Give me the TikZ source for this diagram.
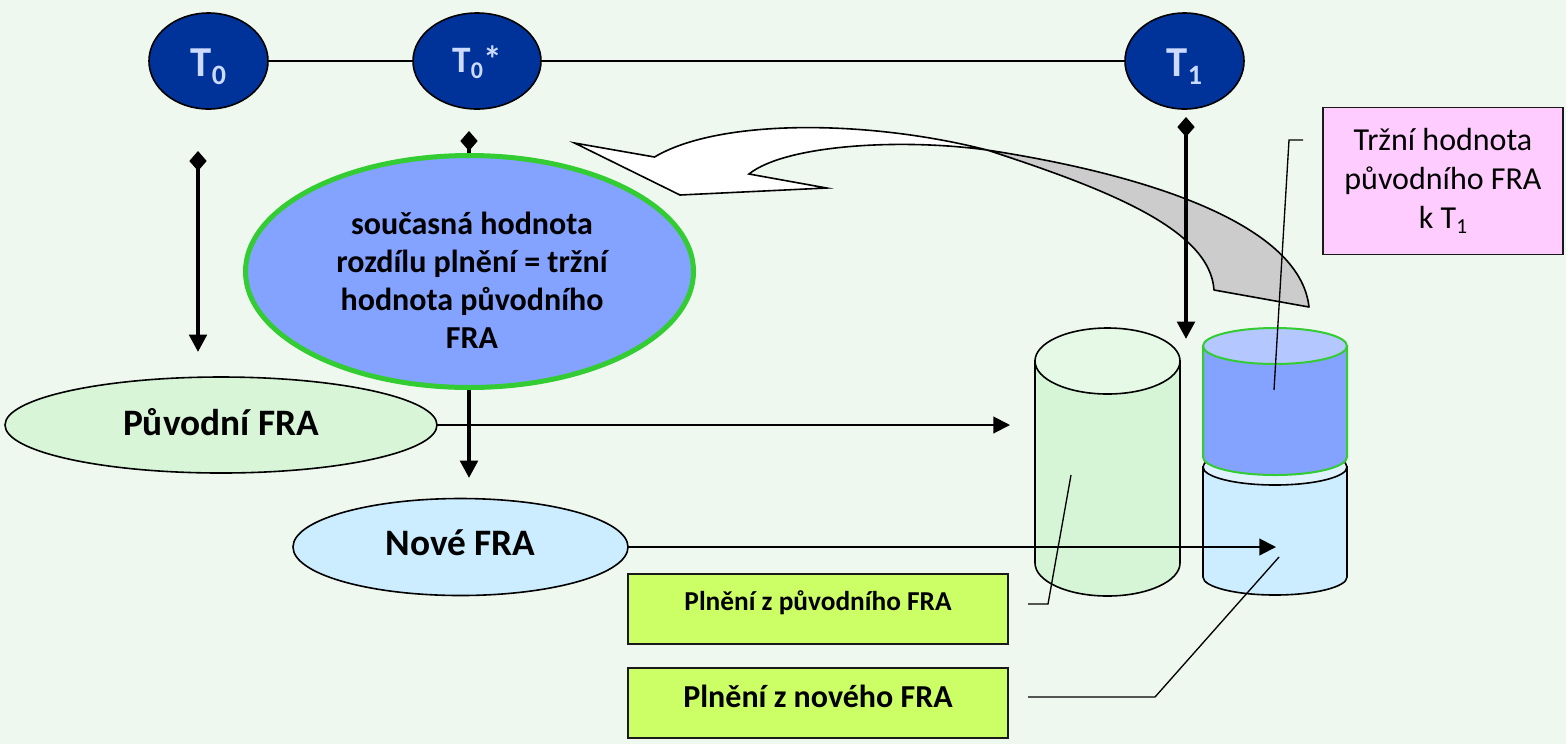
\documentclass[tikz,border=0pt]{standalone}
\usepackage{fontspec}
\setmainfont{Carlito}
\usetikzlibrary{shapes.geometric,arrows.meta,calc}

\definecolor{bgcol}{RGB}{239,248,239}
\definecolor{tblue}{RGB}{0,51,153}
\definecolor{tlabel}{RGB}{204,218,255}
\definecolor{pvgreen}{RGB}{216,245,216}
\definecolor{nvblue}{RGB}{204,236,255}
\definecolor{valblue}{RGB}{132,162,255}
\definecolor{valtop}{RGB}{180,199,255}
\definecolor{rimgreen}{RGB}{51,204,51}
\definecolor{limec}{RGB}{204,255,102}
\definecolor{pinkc}{RGB}{255,204,255}
\definecolor{shadegray}{RGB}{204,204,204}
\definecolor{cylgreen}{RGB}{214,245,214}
\definecolor{cylgreentop}{RGB}{230,248,230}
\definecolor{cylblue}{RGB}{204,236,255}
\definecolor{cylbluetop}{RGB}{222,243,255}

\newcommand{\tsub}[1]{\raisebox{-6pt}{\fontsize{21}{23}\selectfont #1}}

\begin{document}
\begin{tikzpicture}[x=0.75pt,y=-0.75pt,
  every node/.style={inner sep=0pt,outer sep=0pt},
  timept/.style={ellipse,draw=black,line width=1.2pt,fill=tblue,text=tlabel,
    minimum height=72pt,text depth=0pt},
  fraell/.style={ellipse,draw=black,line width=1.2pt,minimum height=72pt,
    font=\bfseries\fontsize{28}{34}\selectfont,text depth=0pt},
  tline/.style={line width=1.1pt},
  vline/.style={line width=3pt,{Diamond[length=15pt,width=13pt]}-{Triangle[length=13pt,width=13pt]}},
  hline/.style={line width=1.5pt,-{Triangle[length=12.5pt,width=12.5pt]}},
  callout/.style={line width=1pt},
  paybox/.style={rectangle,draw=black!90,line width=1.5pt,fill=limec,
    minimum width=285pt,minimum height=52.5pt},
  cylrim/.style={draw=black,line width=1.2pt},
]
\useasboundingbox (0,0) rectangle (1566,744);
\fill[bgcol] (0,0) rectangle (1566,744);

% time points
\node[timept,minimum width=89.25pt,text height=22.5pt,
  font=\bfseries\fontsize{32}{38}\selectfont] (t0) at (208.5,61) {T\tsub{0}};
\node[timept,minimum width=96pt,text height=16.5pt,
  font=\bfseries\fontsize{28}{34}\selectfont] (t0s) at (477,61)
  {T\raisebox{-5pt}{\fontsize{18}{20}\selectfont 0}*};
\node[timept,minimum width=89.25pt,text height=22.5pt,
  font=\bfseries\fontsize{32}{38}\selectfont] (t1) at (1184.5,61) {T\tsub{1}};
\draw[tline] (t0.east) -- (t0s.west);
\draw[tline] (t0s.east) -- (t1.west);

% curved block arrow with shaded underside
\draw[line width=1.2pt,fill=shadegray,line join=round]
  (987,150) .. controls (1150,175) and (1300,225) .. (1309,307)
  -- (1214,290) .. controls (1210,230) and (1110,190) .. (987,150) -- cycle;
\draw[line width=1.2pt,fill=white,line join=miter]
  (654.5,157) .. controls (720,118) and (870,120) .. (987,150)
  .. controls (900,138) and (785,145) .. (749,174)
  -- (826.6,188) -- (680,195) -- (574.5,143) -- cycle;

% vertical time arrows
\coordinate (d0) at (198,151);
\coordinate (e0) at (198,352);
\coordinate (d0s) at (469,131);
\coordinate (e0s) at (469,478);
\coordinate (d1) at (1186,117);
\coordinate (e1) at (1186,339);
\draw[vline] (d0) -- (e0);
\draw[vline] (d0s) -- (e0s);
\draw[vline] (d1) -- (e1);

% contracts
\node[fraell,fill=pvgreen,minimum width=324pt,text height=15pt] (orig) at (221,425) {Původní FRA};
\node[ellipse,draw=rimgreen,line width=3.75pt,fill=valblue,
  minimum width=336pt,minimum height=174pt] (val) at (469.5,271.5) {};
\node[align=center,font=\bfseries\fontsize{24}{28.5}\selectfont] (valtxt) at (472,280)
  {současná hodnota\\rozdílu plnění = tržní\\hodnota původního\\FRA};
\node[fraell,fill=nvblue,minimum width=251.25pt,minimum height=72.75pt,text height=12pt]
  (new) at (460.5,547) {Nové FRA};

% cylinders of payments
\draw[cylrim,fill=cylgreen] (1035,361) -- (1035,563)
  arc[start angle=180,end angle=360,x radius=54.375pt,y radius=24.75pt] -- (1180,361) -- cycle;
\draw[cylrim,fill=cylgreentop] (1107.5,361) ellipse[x radius=54.375pt,y radius=24.75pt];

\draw[cylrim,fill=cylblue] (1203,467) -- (1203,577)
  arc[start angle=180,end angle=360,x radius=54pt,y radius=13.5pt] -- (1347,467) -- cycle;
\draw[cylrim,fill=cylbluetop] (1275,467) ellipse[x radius=54pt,y radius=13.5pt];

\draw[draw=rimgreen,line width=1.5pt,fill=valblue] (1203,346) -- (1203,457)
  arc[start angle=180,end angle=360,x radius=54pt,y radius=13.5pt] -- (1347,346) -- cycle;
\draw[draw=rimgreen,line width=1.5pt,fill=valtop] (1275,346) ellipse[x radius=54pt,y radius=13.5pt];

% horizontal arrows
\coordinate (h1) at (1010,425);
\coordinate (h2) at (1276,547);
\draw[hline] (orig.east) -- (h1);
\draw[hline] (new.east) -- (h2);

% labels
\node[rectangle,draw=black!90,line width=1.2pt,fill=pinkc,minimum width=180pt,
  minimum height=110.25pt,align=center,font=\fontsize{24}{29}\selectfont] (mv) at (1443,181)
  {Tržní hodnota\\původního FRA\\k T\raisebox{-4pt}{\fontsize{16}{18}\selectfont 1}};
\node[paybox,font=\bfseries\fontsize{20.5}{24}\selectfont,text height=9pt,text depth=7.5pt]
  (pay1) at (818,609) {Plnění z původního FRA};
\node[paybox,font=\bfseries\fontsize{24}{28}\selectfont,text height=12pt,text depth=5pt]
  (pay2) at (818,703) {Plnění z nového FRA};

% callout lines
\coordinate (c1a) at (1303,140);
\coordinate (c1b) at (1289,140);
\coordinate (c1c) at (1274,390);
\coordinate (c2a) at (1028,604);
\coordinate (c2b) at (1048,604);
\coordinate (c2c) at (1071,475);
\coordinate (c3a) at (1028,697);
\coordinate (c3b) at (1155,697);
\coordinate (c3c) at (1279,557);
\draw[callout] (c1a) -- (c1b) -- (c1c);
\draw[callout] (c2a) -- (c2b) -- (c2c);
\draw[callout] (c3a) -- (c3b) -- (c3c);
\end{tikzpicture}
\end{document}
